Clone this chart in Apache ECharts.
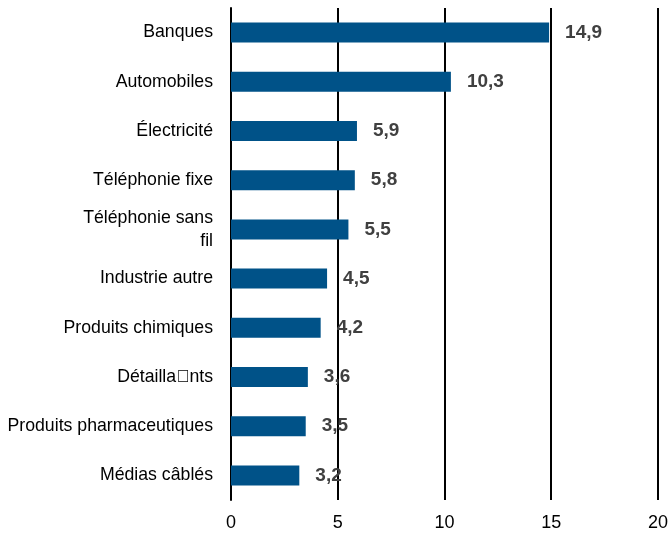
<!DOCTYPE html>
<html>
<head>
<meta charset="utf-8">
<script src="https://cdn.jsdelivr.net/npm/echarts@6/dist/echarts.min.js"></script>
<style>
html,body{margin:0;padding:0;background:#fff}
#chart{width:671px;height:538px}
</style>
</head>
<body>
<div id="chart"></div>
<script>
// secteurs, du haut vers le bas
var secteurs = ['Banques', 'Automobiles', 'Électricité', 'Téléphonie fixe', 'Téléphonie sans fil',
	'Industrie autre', 'Produits chimiques', 'Détailla\uE000nts', 'Produits pharmaceutiques', 'Médias câblés'];
var valeurs = [14.9, 10.3, 5.9, 5.8, 5.5, 4.5, 4.2, 3.6, 3.5, 3.2];
var ticks = [0, 5, 10, 15, 20];

var police = '"Liberation Sans Narrow", "Liberation Sans", Arial, sans-serif';
var chart = echarts.init(document.getElementById('chart'));

var option = {
	animation: false,
	grid: {left: 231, right: 11, top: 8, bottom: 38, containLabel: false},
	xAxis: {
		type: 'value',
		min: ticks[0],
		max: ticks[ticks.length - 1],
		interval: 5,
		axisLine: {show: false},
		axisTick: {show: false},
		splitLine: {show: true, lineStyle: {color: '#000', width: 2}},
		axisLabel: {color: '#000', fontFamily: police, fontSize: 18, margin: 14}
	},
	yAxis: {
		type: 'category',
		data: secteurs,
		inverse: true,
		axisLine: {show: true, lineStyle: {color: '#000', width: 2}},
		axisTick: {show: false},
		axisLabel: {
			color: '#000', fontFamily: police, fontSize: 17.7, margin: 18, lineHeight: 23,
			formatter: function (v) {
				return v == 'Téléphonie sans fil' ? 'Téléphonie sans\nfil' : v;
			}
		}
	},
	series: [{
		type: 'bar',
		data: valeurs,
		barWidth: 20,
		itemStyle: {color: '#005288'},
		label: {
			show: true,
			position: 'right',
			distance: 16,
			color: '#404040',
			fontFamily: police,
			fontSize: 19,
			fontWeight: 'bold',
			formatter: function (p) {
				return p.value.toFixed(1).replace('.', ',');
			}
		}
	}]
};
chart.setOption(option, true);
</script>
</body>
</html>
